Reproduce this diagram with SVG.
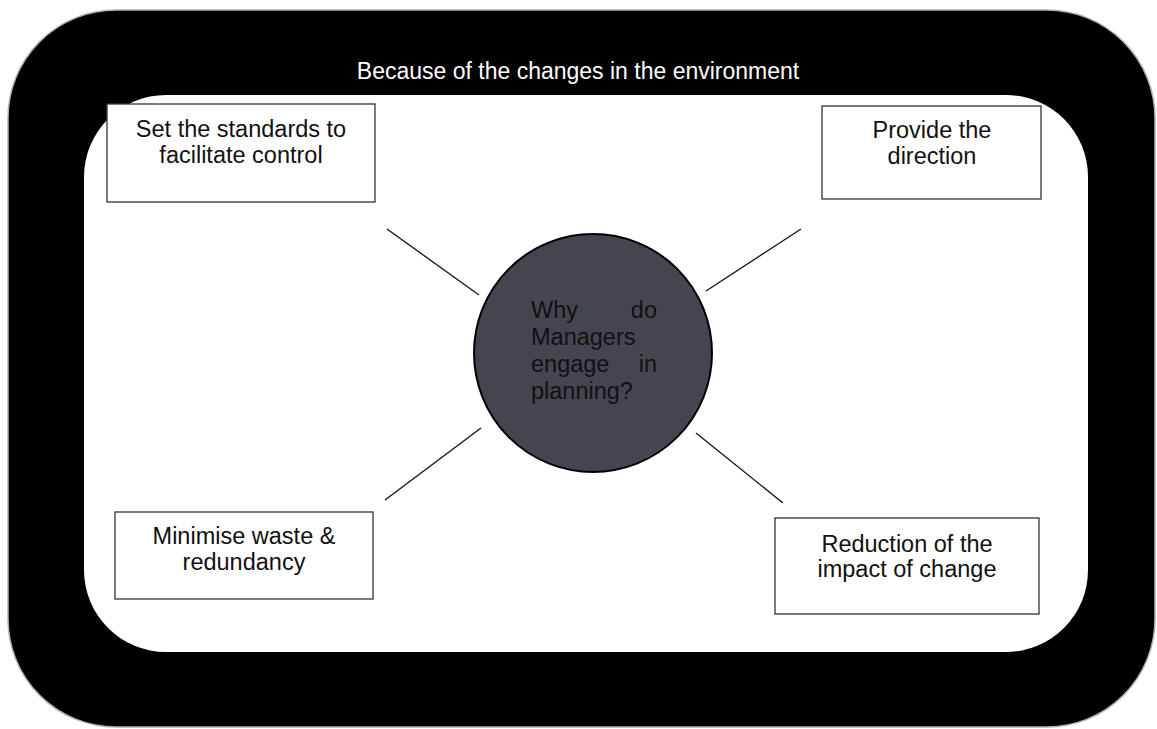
<svg xmlns="http://www.w3.org/2000/svg" width="1157" height="729" viewBox="0 0 1157 729">
<style>
.box{fill:#fff;stroke:#333;stroke-width:1.3}
.t{font-family:"Liberation Sans",Arial,sans-serif;font-size:23.5px;fill:#111}
.c{text-anchor:middle}
.conn line{stroke:#111;stroke-width:1.3}
</style>
<rect width="1157" height="729" fill="#fff"/>
<g id="frame">
<rect x="8" y="10" width="1147" height="717" rx="108" ry="108" fill="#000" stroke="#b0b0b8" stroke-width="1.5"/>
<rect x="84" y="95" width="1004" height="557" rx="82" ry="82" fill="#fff"/>
<text class="t c" x="578" y="79" style="fill:#fff;font-size:23px">Because of the changes in the environment</text>
</g>
<g class="conn" id="connectors">
<line x1="387" y1="229" x2="479" y2="295"/>
<line x1="801" y1="229" x2="706" y2="291"/>
<line x1="481" y1="428" x2="385" y2="500"/>
<line x1="696" y1="433" x2="783" y2="503"/>
</g>
<g id="center">
<circle cx="593" cy="353" r="119" fill="#45454f" stroke="#000" stroke-width="2"/>
<text class="t" x="531" y="318">Why</text>
<text class="t" x="657" y="318" text-anchor="end">do</text>
<text class="t" x="531" y="345">Managers</text>
<text class="t" x="531" y="372">engage</text>
<text class="t" x="657" y="372" text-anchor="end">in</text>
<text class="t" x="531" y="399">planning?</text>
</g>
<g id="n1">
<rect class="box" x="107" y="104" width="268" height="98"/>
<text class="t c" x="241" y="137">Set the standards to</text>
<text class="t c" x="241" y="163">facilitate control</text>
</g>
<g id="n2">
<rect class="box" x="822" y="106" width="219" height="93"/>
<text class="t c" x="932" y="138">Provide the</text>
<text class="t c" x="932" y="164">direction</text>
</g>
<g id="n3">
<rect class="box" x="115" y="512" width="258" height="87"/>
<text class="t c" x="244" y="544">Minimise waste &amp;</text>
<text class="t c" x="244" y="570">redundancy</text>
</g>
<g id="n4">
<rect class="box" x="775" y="518" width="264" height="96"/>
<text class="t c" x="907" y="552">Reduction of the</text>
<text class="t c" x="907" y="577">impact of change</text>
</g>
</svg>
